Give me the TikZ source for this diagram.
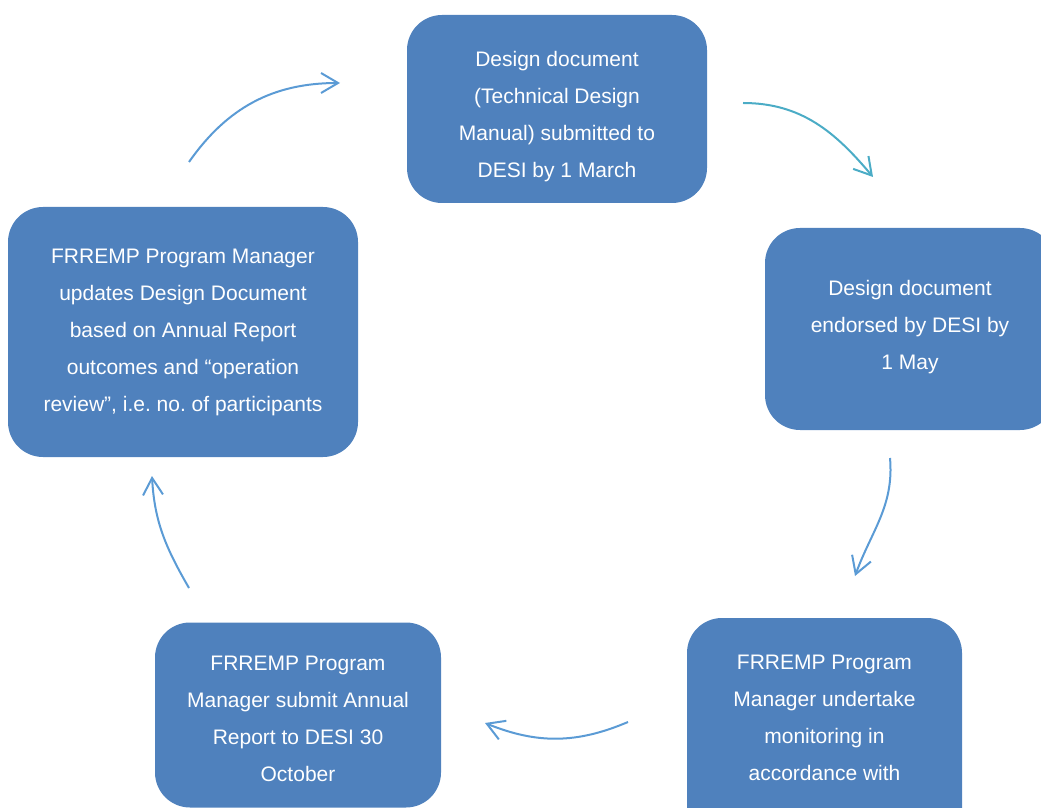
\documentclass[tikz,border=0pt]{standalone}
\usepackage{fontspec}
\setmainfont{Liberation Sans}
\usetikzlibrary{arrows.meta}
\definecolor{boxblue}{HTML}{4F81BD}
\definecolor{arrowblue}{HTML}{5B9BD5}
\definecolor{arrowteal}{HTML}{4BACC6}

\begin{document}
\frenchspacing
\begin{tikzpicture}[x=1pt, y=1pt,
    stage/.style={fill=boxblue, rounded corners=35pt, inner sep=0pt},
    stagetext/.style={text=white, align=center, inner sep=0pt, font=\fontsize{21}{37}\selectfont},
    cycle/.style={draw=arrowblue, line width=2pt, -{Straight Barb[length=17pt, width=20pt, line width=2pt]}}]
    \useasboundingbox (0, 0) rectangle (1041, 807);
    \clip (0, 0) rectangle (1041, 807);

    % the five stages
    \node[stage, minimum width=300, minimum height=188] (design) at (557, 698) {};
    \node[stage, minimum width=290, minimum height=202] (endorse) at (910, 478) {};
    \node[stage, minimum width=275, minimum height=232] (monitor) at (824.5, 73) {};
    \node[stage, minimum width=286, minimum height=185] (report) at (298, 92) {};
    \node[stage, minimum width=350, minimum height=250] (update) at (183, 475) {};

    % their texts
    \node[stagetext] (designtext) at ([yshift=-8]design.center)
        {Design document\\(Technical Design\\Manual) submitted to\\DESI by 1 March};
    \node[stagetext] (endorsetext) at ([yshift=2]endorse.center)
        {Design document\\endorsed by DESI by\\1 May};
    \node[stagetext] (monitortext) at ([yshift=16]monitor.center)
        {FRREMP Program\\Manager undertake\\monitoring in\\accordance with};
    \node[stagetext] (reporttext) at ([yshift=-4]report.center)
        {FRREMP Program\\Manager submit Annual\\Report to DESI 30\\October};
    \node[stagetext] (updatetext) at (update.center)
        {FRREMP Program Manager\\updates Design Document\\based on Annual Report\\outcomes and “operation\\review”, i.e. no. of participants};

    % arrows between the stages
    \coordinate (a1s) at (189, 645); \coordinate (a1e) at (340, 724);
    \coordinate (a2s) at (743, 704); \coordinate (a2e) at (873, 630);
    \coordinate (a3s) at (890, 349); \coordinate (a3e) at (855, 231);
    \coordinate (a4s) at (628, 85);  \coordinate (a4e) at (485, 84);
    \coordinate (a5s) at (189, 219); \coordinate (a5e) at (152, 331);

    \draw[cycle] (a1s) to[out=55, in=180] (a1e);
    \draw[cycle, draw=arrowteal] (a2s) to[out=0, in=130] (a2e);
    \draw[cycle] (a3s) to[out=-85, in=70] (a3e);
    \draw[cycle] (a4s) to[out=203, in=338] (a4e);
    \draw[cycle] (a5s) to[out=120, in=273] (a5e);
\end{tikzpicture}
\end{document}
